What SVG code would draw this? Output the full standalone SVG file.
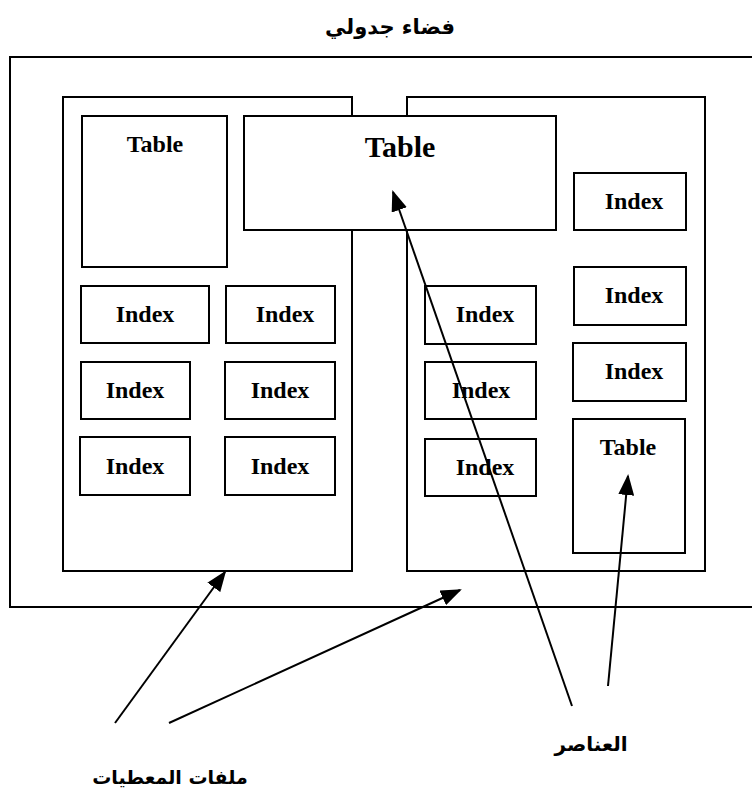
<svg xmlns="http://www.w3.org/2000/svg" width="752" height="795" viewBox="0 0 752 795">
<style>
.box{fill:#fff;stroke:#000;stroke-width:2}
.lbl{font-family:"Liberation Serif","Times New Roman",serif;font-weight:bold;font-size:24px;text-anchor:middle;fill:#000}
.ar{font-family:"DejaVu Sans",sans-serif;font-weight:bold;font-size:20px;text-anchor:middle;fill:#000}
.conn{stroke:#000;stroke-width:2;fill:none}
</style>
<defs>
<marker id="ah" markerUnits="userSpaceOnUse" markerWidth="21" markerHeight="16" refX="19" refY="8" orient="auto">
<path d="M0,0 L21,8 L0,16 Z" fill="#000"/>
</marker>
</defs>
<rect width="752" height="795" fill="#fff"/>
<text class="ar" x="390" y="34" style="font-size:21px">فضاء جدولي</text>
<g id="tablespace"><path class="conn" d="M752,57 H10 V607 H752"/></g>
<g id="file1"><rect class="box" x="63" y="97" width="289" height="474"/></g>
<g id="file2"><rect class="box" x="407" y="97" width="298" height="474"/></g>
<g id="t1"><rect class="box" x="82" y="116" width="145" height="151"/><text class="lbl" x="155" y="152">Table</text></g>
<g id="t2"><rect class="box" x="244" y="116" width="312" height="114"/><text class="lbl" x="400" y="157" style="font-size:30px">Table</text></g>
<g id="i1"><rect class="box" x="81" y="286" width="128" height="57"/><text class="lbl" x="145" y="322">Index</text></g>
<g id="i2"><rect class="box" x="226" y="286" width="109" height="57"/><text class="lbl" x="285" y="322">Index</text></g>
<g id="i3"><rect class="box" x="81" y="362" width="109" height="57"/><text class="lbl" x="135" y="398">Index</text></g>
<g id="i4"><rect class="box" x="225" y="362" width="110" height="57"/><text class="lbl" x="280" y="398">Index</text></g>
<g id="i5"><rect class="box" x="80" y="437" width="110" height="58"/><text class="lbl" x="135" y="474">Index</text></g>
<g id="i6"><rect class="box" x="225" y="437" width="110" height="58"/><text class="lbl" x="280" y="474">Index</text></g>
<g id="i7"><rect class="box" x="425" y="286" width="111" height="58"/><text class="lbl" x="485" y="322">Index</text></g>
<g id="i8"><rect class="box" x="425" y="362" width="111" height="57"/><text class="lbl" x="481" y="398">Index</text></g>
<g id="i9"><rect class="box" x="425" y="439" width="111" height="57"/><text class="lbl" x="485" y="475">Index</text></g>
<g id="i10"><rect class="box" x="574" y="173" width="112" height="57"/><text class="lbl" x="634" y="209">Index</text></g>
<g id="i11"><rect class="box" x="574" y="267" width="112" height="58"/><text class="lbl" x="634" y="303">Index</text></g>
<g id="i12"><rect class="box" x="573" y="343" width="113" height="58"/><text class="lbl" x="634" y="379">Index</text></g>
<g id="t3"><rect class="box" x="573" y="419" width="112" height="134"/><text class="lbl" x="628" y="455">Table</text></g>
<g id="connectors">
<line class="conn" x1="115" y1="723" x2="225" y2="572" marker-end="url(#ah)"/>
<line class="conn" x1="169" y1="723" x2="460" y2="590" marker-end="url(#ah)"/>
<line class="conn" x1="572" y1="706" x2="393" y2="192" marker-end="url(#ah)"/>
<line class="conn" x1="608" y1="686" x2="628" y2="476" marker-end="url(#ah)"/>
</g>
<text class="ar" x="591" y="751">العناصر</text>
<text class="ar" x="170" y="784" style="font-size:19px">ملفات المعطيات</text>
</svg>
